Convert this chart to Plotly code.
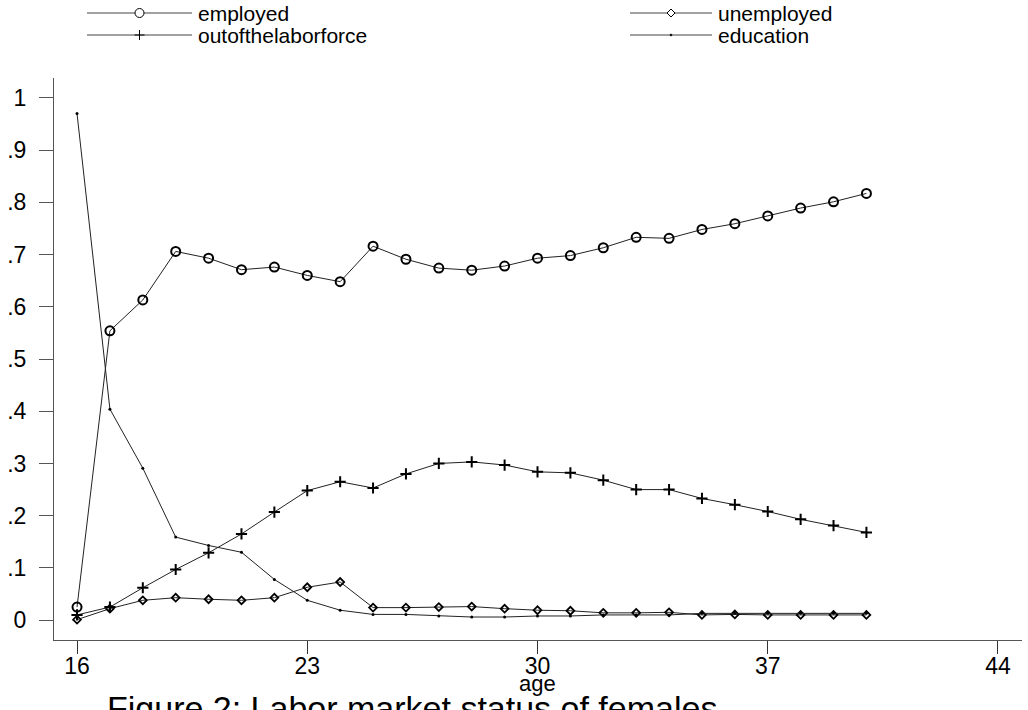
import plotly.graph_objects as go

# Share of females in each labour-market state, by age
age = list(range(16, 41))
employed = [0.025, 0.554, 0.613, 0.706, 0.693, 0.671, 0.676, 0.660, 0.648, 0.716,
            0.691, 0.674, 0.670, 0.678, 0.693, 0.698, 0.713, 0.733, 0.731, 0.748,
            0.759, 0.774, 0.789, 0.801, 0.817]
unemployed = [0.001, 0.022, 0.038, 0.043, 0.040, 0.038, 0.043, 0.063, 0.073, 0.024,
              0.024, 0.025, 0.026, 0.022, 0.019, 0.018, 0.014, 0.014, 0.015, 0.010,
              0.011, 0.010, 0.010, 0.010, 0.010]
outofthelaborforce = [0.010, 0.025, 0.062, 0.097, 0.129, 0.165, 0.207, 0.248, 0.265, 0.253,
                      0.280, 0.300, 0.303, 0.297, 0.284, 0.282, 0.268, 0.250, 0.250, 0.233,
                      0.221, 0.208, 0.193, 0.181, 0.168]
education = [0.970, 0.404, 0.291, 0.159, 0.143, 0.130, 0.078, 0.038, 0.019, 0.011,
             0.011, 0.008, 0.006, 0.006, 0.008, 0.008, 0.010, 0.010, 0.010, 0.013,
             0.013, 0.013, 0.013, 0.013, 0.013]

x_ticks = [16, 23, 30, 37, 44]
y_ticks = [0, 0.1, 0.2, 0.3, 0.4, 0.5, 0.6, 0.7, 0.8, 0.9, 1.0]
y_ticktext = ["0", ".1", ".2", ".3", ".4", ".5", ".6", ".7", ".8", ".9", "1"]

series_names = ["employed", "unemployed", "outofthelaborforce", "education"]

FONT = "Liberation Sans, Arial, sans-serif"
W, H = 1028, 710
ML, MR, MT, MB = 54, 6, 78, 70
LINE = "#222222"

styles = {
    "employed": dict(symbol="circle-open", size=9, lw=2.0),
    "unemployed": dict(symbol="diamond-open", size=6, lw=1.8),
    "outofthelaborforce": dict(symbol="cross-thin-open", size=8, lw=2.0),
    "education": dict(symbol="circle", size=3, lw=0),
}
values = {
    "employed": employed,
    "unemployed": unemployed,
    "outofthelaborforce": outofthelaborforce,
    "education": education,
}

fig = go.Figure()
for name in series_names:
    st = styles[name]
    fig.add_trace(go.Scatter(
        x=age, y=values[name], name=name, mode="lines+markers",
        line=dict(color=LINE, width=1),
        marker=dict(symbol=st["symbol"], size=st["size"], color="black",
                    line=dict(color="black", width=st["lw"])),
        showlegend=False,
    ))


def px_x(px):
    return (px - ML) / (W - ML - MR)


def px_y(py):
    return (H - MB - py) / (H - MT - MB)


# Hand-built legend: long sample line with the marker in the middle
legend_rows = [
    ("employed", 87, 192, 13),
    ("unemployed", 630, 712, 13),
    ("outofthelaborforce", 87, 192, 35),
    ("education", 630, 712, 35),
]
shapes = []
annotations = []
for name, x0, x1, yc in legend_rows:
    shapes.append(dict(type="line", xref="paper", yref="paper",
                       x0=px_x(x0), x1=px_x(x1), y0=px_y(yc), y1=px_y(yc),
                       line=dict(color="#444444", width=1)))
    xm, ym = px_x((x0 + x1) / 2), px_y(yc)
    common = dict(xref="paper", yref="paper", xsizemode="pixel", ysizemode="pixel",
                  xanchor=xm, yanchor=ym)
    if name == "employed":
        shapes.append(dict(type="circle", x0=-4.5, x1=4.5, y0=-4.5, y1=4.5,
                           line=dict(color="black", width=1), fillcolor="white", **common))
    elif name == "unemployed":
        shapes.append(dict(type="path", path="M-4,0L0,-4L4,0L0,4Z",
                           line=dict(color="black", width=1), fillcolor="white", **common))
    elif name == "outofthelaborforce":
        shapes.append(dict(type="path", path="M-5,0H5M0,-5V5",
                           line=dict(color="black", width=1), **common))
    else:
        shapes.append(dict(type="circle", x0=-1, x1=1, y0=-1, y1=1,
                           line=dict(color="black", width=0.5), fillcolor="black", **common))
    annotations.append(dict(text=name, xref="paper", yref="paper",
                            x=px_x(x1 + 4), y=px_y(yc), xanchor="left", yanchor="middle",
                            showarrow=False, font=dict(family=FONT, size=21, color="black")))

annotations.append(dict(text="age", xref="x", yref="paper", x=30, y=px_y(683),
                        xanchor="center", yanchor="middle", showarrow=False,
                        font=dict(family=FONT, size=22, color="black")))
annotations.append(dict(text="Figure 2: Labor market status of females",
                        xref="paper", yref="paper", x=px_x(105), y=px_y(687),
                        xanchor="left", yanchor="top", showarrow=False,
                        font=dict(family=FONT, size=34, color="black")))

fig.update_layout(
    width=W, height=H,
    margin=dict(l=ML, r=MR, t=MT, b=MB, autoexpand=False),
    paper_bgcolor="white", plot_bgcolor="white",
    shapes=shapes, annotations=annotations,
    showlegend=False,
    font=dict(family=FONT, color="black"),
)
fig.update_xaxes(
    range=[15.30, 44.73], tickvals=x_ticks, ticktext=[str(v) for v in x_ticks],
    showgrid=False, zeroline=False, showline=True, linecolor="#555555", linewidth=1,
    ticks="outside", ticklen=13, tickcolor="#333333", tickwidth=1,
    tickfont=dict(family=FONT, size=23, color="black"), ticklabelstandoff=-8,
    automargin=False,
)
fig.update_yaxes(
    range=[-0.038, 1.038], tickvals=y_ticks, ticktext=y_ticktext,
    showgrid=False, zeroline=False, showline=True, linecolor="#555555", linewidth=1,
    ticks="outside", ticklen=14, tickcolor="#555555", tickwidth=1,
    tickfont=dict(family=FONT, size=23, color="black"), ticklabelstandoff=8,
    automargin=False,
)

fig.write_html("out.html")
